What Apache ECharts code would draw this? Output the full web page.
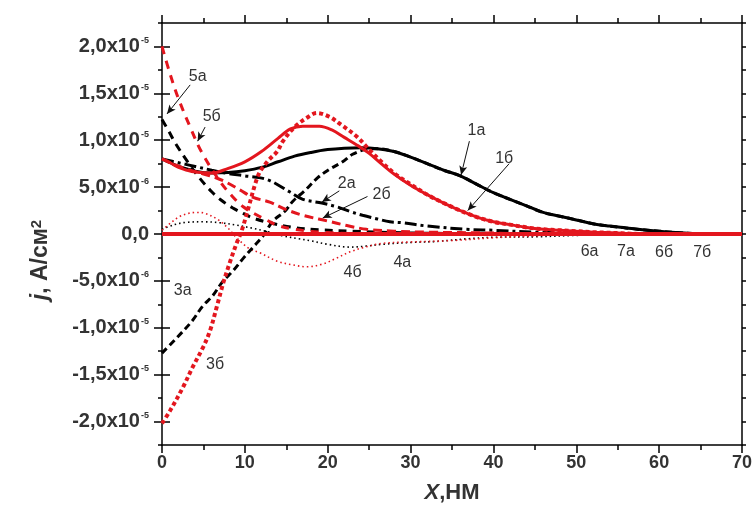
<!DOCTYPE html>
<html>
<head>
<meta charset="utf-8">
<script src="https://cdn.jsdelivr.net/npm/echarts@6/dist/echarts.min.js"></script>
<style>
html,body{margin:0;padding:0;background:#fff;}
#chart{width:755px;height:509px;}
</style>
</head>
<body>
<div id="chart"></div>
<script>
// values in units of 1e-5 A/cm^2, x in nm
const curve1a = [[0,0.8],[1,0.76],[2,0.72],[4,0.67],[6,0.65],[8,0.655],[10,0.675],[12,0.71],[14,0.77],[16,0.83],[18,0.87],[20,0.9],[22,0.915],[24,0.92],[26,0.91],[28,0.88],[30,0.82],[32,0.75],[34,0.68],[36,0.62],[38,0.53],[40,0.44],[42,0.37],[44,0.3],[46,0.23],[48,0.19],[50,0.15],[52,0.11],[54,0.085],[56,0.065],[58,0.045],[60,0.03],[62,0.015],[64,0.005],[66,0],[70,0]];
const curve1b = [[0,0.8],[1,0.76],[2,0.71],[3,0.68],[4,0.66],[6,0.65],[8,0.7],[10,0.77],[12,0.88],[14,1.02],[15.5,1.12],[17,1.15],[19,1.15],[20.5,1.11],[22,1.03],[23.5,0.95],[25,0.86],[26.6,0.74],[28,0.64],[30,0.52],[32,0.42],[34,0.33],[36,0.25],[38,0.18],[40,0.13],[42,0.1],[44,0.07],[46,0.05],[48,0.04],[50,0.03],[52,0.02],[55,0.01],[58,0],[70,0]];
const curve2a = [[0,0.8],[2,0.76],[4,0.72],[6,0.68],[8,0.645],[10,0.62],[12.7,0.58],[15.4,0.45],[17,0.37],[19.3,0.33],[21.1,0.29],[22.7,0.24],[24.2,0.2],[26,0.16],[27.5,0.13],[29,0.12],[32,0.085],[36.7,0.05],[40,0.04],[45,0.02],[50,0.01],[55,0],[70,0]];
const curve2b = [[0,0.8],[1.5,0.74],[3,0.69],[5,0.64],[6.5,0.6],[7.8,0.55],[9.4,0.47],[11,0.39],[13,0.34],[15,0.26],[17,0.2],[19.9,0.14],[22.3,0.09],[24.7,0.05],[28,0.03],[32,0.02],[40,0.01],[46,0],[70,0]];
const curve3a = [[0,-1.27],[2.5,-1.04],[3.7,-0.92],[4.9,-0.77],[6.1,-0.66],[7.3,-0.51],[8.6,-0.39],[9.8,-0.26],[11,-0.14],[12.2,-0.02],[13.4,0.14],[14.8,0.24],[15.8,0.35],[17.2,0.46],[18.8,0.6],[20.2,0.69],[21.8,0.77],[23,0.85],[24.5,0.9],[26,0.91],[28,0.88],[30,0.82],[32,0.75],[34,0.68],[36,0.62],[38,0.53],[40,0.44],[42,0.37],[44,0.3],[46,0.23],[48,0.19],[50,0.15],[52,0.11],[54,0.085],[56,0.065],[58,0.045],[60,0.03],[62,0.015],[64,0.005],[66,0],[70,0]];
const curve3b = [[0,-2.02],[1,-1.88],[2.5,-1.64],[3.7,-1.42],[5,-1.2],[5.8,-1.03],[6.6,-0.78],[7.4,-0.52],[8.2,-0.3],[9,-0.1],[9.6,0.03],[10.5,0.3],[11.2,0.52],[11.8,0.66],[12.8,0.78],[13.9,0.88],[14.6,0.99],[16,1.14],[17.5,1.24],[18.7,1.29],[20.2,1.25],[21.7,1.16],[23.5,1.04],[25,0.9],[26.6,0.76],[28,0.65],[30,0.53],[32,0.42],[34,0.33],[36,0.25],[38,0.18],[40,0.13],[42,0.1],[44,0.07],[46,0.05],[48,0.04],[50,0.03],[52,0.02],[55,0.01],[58,0],[70,0]];
const curve4a = [[0,0.05],[1.5,0.1],[3,0.125],[5,0.13],[7,0.12],[9,0.095],[11,0.06],[13,0.02],[14.6,-0.02],[16.5,-0.05],[17.8,-0.07],[20,-0.11],[22.7,-0.14],[24.5,-0.13],[26.6,-0.11],[30,-0.09],[33,-0.08],[37,-0.05],[40,-0.035],[45,-0.03],[50,-0.015],[55,-0.005],[60,0],[70,0]];
const curve4b = [[0,0.04],[0.8,0.1],[2,0.18],[3.2,0.22],[4.2,0.23],[5.2,0.22],[6.8,0.15],[8,0.06],[9,-0.04],[10.6,-0.16],[11.8,-0.2],[13.9,-0.29],[15.8,-0.33],[17.5,-0.35],[19.4,-0.32],[21,-0.26],[22.7,-0.19],[24.5,-0.14],[26.6,-0.1],[30,-0.085],[35,-0.07],[40,-0.04],[45,-0.02],[50,0],[70,0]];
const curve5a = [[0,1.22],[0.8,1.1],[1.6,0.97],[3.1,0.77],[4.5,0.6],[6,0.45],[7,0.37],[8.5,0.28],[9.8,0.22],[11,0.17],[13,0.12],[15.8,0.07],[19,0.045],[23,0.03],[28,0.015],[35,0.005],[40,0],[70,0]];
const curve5b = [[0,2.0],[1,1.7],[2,1.44],[3.4,1.14],[4.8,0.87],[7,0.56],[8.5,0.4],[9.8,0.29],[11.5,0.2],[12.6,0.15],[14,0.09],[16,0.05],[19,0.02],[23,0.005],[27,0],[70,0]];
const curve6a = [[0,0],[70,0]];
const curve7a = [[0,0],[70,0]];
const curve6b = [[0,0],[70,0]];
const curve7b = [[0,0],[70,0]];

const yTickValues = [-2,-1.5,-1,-0.5,0,0.5,1,1.5,2];
const yTickMantissa = ['-2,0x10','-1,5x10','-1,0x10','-5,0x10','0,0','5,0x10','1,0x10','1,5x10','2,0x10'];
const yTickExponent = ['-5','-5','-5','-6','','-6','-5','-5','-5'];

// curve labels: [text, x, y]
const curveLabels = [['1а',37.95,1.10],['1б',41.3,0.80],['2а',22.3,0.54],['2б',26.5,0.42],['3а',2.5,-0.60],['3б',6.4,-1.39],['4а',29.0,-0.31],['4б',23.0,-0.41],['5а',4.3,1.68],['5б',6.0,1.25],['6а',51.6,-0.19],['7а',56.0,-0.19],['6б',60.6,-0.20],['7б',65.2,-0.20]];
// arrows: [fromX, fromY, toX, toY]
const arrows = [[37.1,0.99,36.1,0.63],[41.9,0.75,36.9,0.25],[21.4,0.46,19.3,0.34],[24.8,0.40,19.4,0.17],[3.4,1.59,0.6,1.28],[5.2,1.14,4.3,0.99]];

const RED = '#e3161e';
const BLACK = '#000';
const FONT = "'Liberation Sans', Arial, sans-serif";

function line(name, data, color, width, type, z) {
  return {
    name, type: 'line', data, smooth: 0.35, showSymbol: false, symbol: 'none',
    xAxisIndex: 0, yAxisIndex: 0, z: z || 2, silent: true,
    lineStyle: { color, width, type, cap: 'butt' }
  };
}

const series = [
  line('6а', curve6a, BLACK, 3, 'solid', 2),
  line('7а', curve7a, BLACK, 3, 'solid', 2),
  line('4а', curve4a, BLACK, 1.6, [1.5, 3], 3),
  line('4б', curve4b, RED, 1.6, [1.5, 3], 3),
  line('2а', curve2a, BLACK, 3, [12, 4, 3, 4], 3),
  line('5а', curve5a, BLACK, 3, [8, 6], 3),
  line('3а', curve3a, BLACK, 3, [7, 4], 3),
  line('1а', curve1a, BLACK, 3, 'solid', 4),
  line('2б', curve2b, RED, 3, [9, 5], 4),
  line('5б', curve5b, RED, 3, [8, 7], 4),
  line('3б', curve3b, RED, 4, [4, 3], 4),
  line('1б', curve1b, RED, 3, 'solid', 5),
  line('6б', curve6b, RED, 4, 'solid', 6),
  line('7б', curve7b, RED, 4, 'solid', 6)
];

series[7].markLine = {
  silent: true, animation: false,
  symbol: ['none', 'arrow'], symbolSize: [6, 9],
  label: { show: false },
  lineStyle: { color: '#111', width: 1, type: 'solid' },
  data: arrows.map(a => [{ coord: [a[0], a[1]] }, { coord: [a[2], a[3]] }])
};
series[7].markPoint = {
  silent: true, animation: false,
  symbol: 'rect', symbolSize: [1, 1],
  itemStyle: { color: 'rgba(0,0,0,0)' },
  label: { show: true, position: 'inside', color: '#333', fontSize: 16, fontFamily: FONT, formatter: p => p.name },
  data: curveLabels.map(l => ({ name: l[0], coord: [l[1], l[2]] }))
};

const axisLine = { show: true, onZero: false, lineStyle: { color: '#000', width: 1.5 } };

const option = {
  animation: false,
  backgroundColor: '#fff',
  grid: { left: 162, right: 12, top: 23, bottom: 60 },
  xAxis: [
    {
      type: 'value', position: 'bottom', min: 0, max: 70, interval: 10,
      axisLine, splitLine: { show: false },
      axisTick: { show: true, length: 8, lineStyle: { color: '#000', width: 1.5 } },
      minorTick: { show: true, splitNumber: 2, length: 5, lineStyle: { color: '#000', width: 1.5 } },
      axisLabel: { margin: 9, color: '#333', fontSize: 18, fontWeight: 'bold', fontFamily: FONT },
      name: '{i|X}{n|,НМ}', nameLocation: 'middle', nameGap: 37,
      nameTextStyle: { rich: {
        i: { fontSize: 22, fontWeight: 'bold', fontStyle: 'italic', color: '#333', fontFamily: FONT },
        n: { fontSize: 22, fontWeight: 'bold', color: '#333', fontFamily: FONT }
      } }
    },
    {
      type: 'value', position: 'top', min: 0, max: 70, interval: 10,
      axisLine, splitLine: { show: false },
      axisTick: { show: true, length: 8, lineStyle: { color: '#000', width: 1.5 } },
      minorTick: { show: true, splitNumber: 2, length: 5, lineStyle: { color: '#000', width: 1.5 } },
      axisLabel: { show: false }
    }
  ],
  yAxis: [
    {
      type: 'value', position: 'left', min: -2.25, max: 2.25, interval: 0.25,
      axisLine, splitLine: { show: false },
      axisTick: { show: true, length: 4, lineStyle: { color: '#000', width: 1.5 } },
      axisLabel: {
        customValues: yTickValues, margin: 13,
        formatter: v => {
          const i = yTickValues.findIndex(t => Math.abs(t - v) < 1e-6);
          if (i < 0) return '';
          return yTickExponent[i] ? '{m|' + yTickMantissa[i] + '}{e|' + yTickExponent[i] + '}' : '{m|' + yTickMantissa[i] + '}';
        },
        rich: {
          m: { fontSize: 20, fontWeight: 'bold', color: '#333', fontFamily: FONT, lineHeight: 21 },
          e: { fontSize: 9, fontWeight: 'bold', color: '#333', fontFamily: FONT, verticalAlign: 'top', lineHeight: 9, padding: [0, 0, 0, 1] }
        }
      },
      name: '{i|j}{n|, A/см}{s|2}', nameLocation: 'middle', nameGap: 110, nameRotate: 90,
      nameTextStyle: { padding: [0, 52, 0, 0], rich: {
        i: { fontSize: 23, fontWeight: 'bold', fontStyle: 'italic', color: '#333', fontFamily: FONT },
        n: { fontSize: 23, fontWeight: 'bold', color: '#333', fontFamily: FONT },
        s: { fontSize: 15, fontWeight: 'bold', color: '#333', fontFamily: FONT, verticalAlign: 'top', lineHeight: 12 }
      } }
    },
    {
      type: 'value', position: 'left', min: -2.25, max: 2.25, interval: 0.25,
      axisLine: { show: false }, splitLine: { show: false }, axisLabel: { show: false },
      axisTick: { show: true, customValues: yTickValues, length: 8, lineStyle: { color: '#000', width: 1.5 } }
    },
    {
      type: 'value', position: 'right', min: -2.25, max: 2.25, interval: 0.25,
      axisLine, splitLine: { show: false }, axisLabel: { show: false },
      axisTick: { show: true, length: 4, lineStyle: { color: '#000', width: 1.5 } }
    },
    {
      type: 'value', position: 'right', min: -2.25, max: 2.25, interval: 0.25,
      axisLine: { show: false }, splitLine: { show: false }, axisLabel: { show: false },
      axisTick: { show: true, customValues: yTickValues, length: 8, lineStyle: { color: '#000', width: 1.5 } }
    }
  ],
  series
};

const chart = echarts.init(document.getElementById('chart'), null, { renderer: 'canvas' });
chart.setOption(option);
</script>
</body>
</html>
